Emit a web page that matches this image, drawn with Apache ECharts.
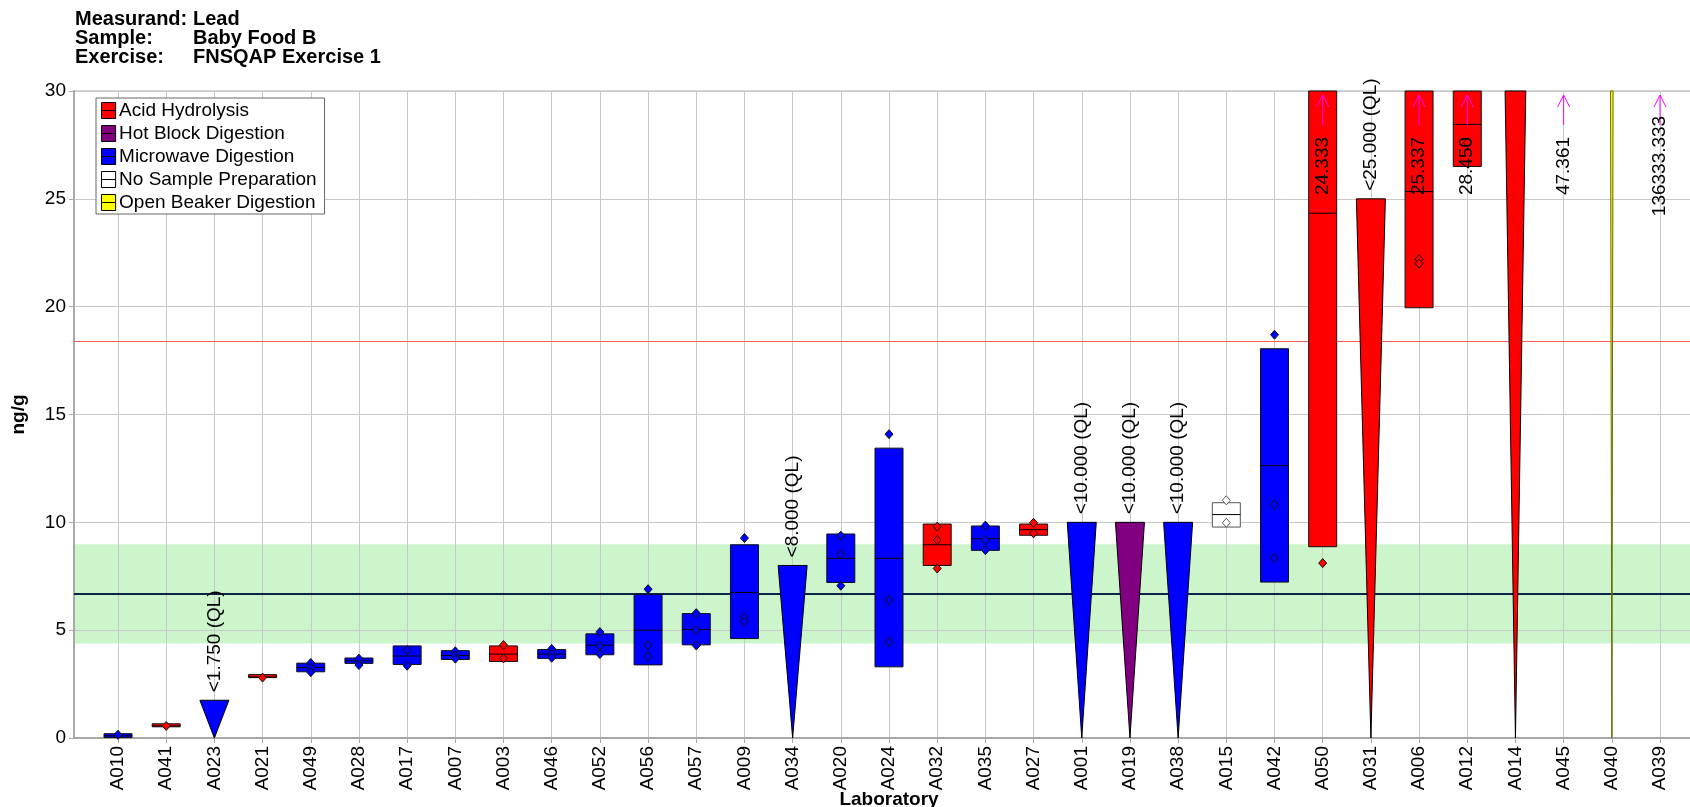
<!DOCTYPE html>
<html>
<head>
<meta charset="utf-8">
<script src="https://cdn.jsdelivr.net/npm/echarts@6/dist/echarts.min.js"></script>
<style>
html, body { margin: 0; padding: 0; background: #fff; }
#chart { width: 1690px; height: 807px; }
</style>
</head>
<body>
<div id="chart"></div>
<script>
var headerKeys = ['Measurand:', 'Sample:', 'Exercise:'];
var headerValues = ['Lead', 'Baby Food B', 'FNSQAP Exercise 1'];

var labs = ['A010','A041','A023','A021','A049','A028','A017','A007','A003','A046','A052','A056','A057','A009','A034','A020','A024','A032','A035','A027','A001','A019','A038','A015','A042','A050','A031','A006','A012','A014','A045','A040','A039'];
var methods = ['MW','AH','MW','AH','MW','MW','MW','MW','AH','MW','MW','MW','MW','MW','MW','MW','MW','AH','MW','AH','MW','HB','MW','NP','MW','AH','AH','AH','AH','AH','AH','OB','MW'];

var boxLow    = [0.02,0.52,null,2.80,3.07,3.46,3.41,3.64,3.55,3.69,3.86,3.39,4.32,4.61,null,7.21,3.30,8.00,8.70,9.40,null,null,null,9.78,7.23,8.87,null,19.95,26.50,null,null,null,null];
var boxMedian = [0.10,0.56,null,2.83,3.27,3.58,3.80,3.83,3.89,3.89,4.30,5.00,5.03,6.75,null,8.33,8.33,8.96,9.24,9.66,null,null,null,10.36,12.63,24.333,null,25.337,28.45,null,null,null,null];
var boxHigh   = [0.20,0.60,null,2.86,3.47,3.71,4.27,4.05,4.27,4.10,4.83,6.66,5.77,8.96,null,9.46,13.44,9.92,9.83,9.92,null,null,null,10.91,18.05,40,null,35,32,null,null,null,null];
var results = [[0.15],[0.56],[],[2.80],[3.48,3.25,3.05],[3.68,3.38],[4.08,3.35],[4.02,3.83,3.68],[4.31,3.69],[4.13,3.89,3.72],[4.91,4.27,3.89],[6.90,4.30,3.79],[5.79,5.00,4.29],[9.27,5.60,5.39],[],[9.38,8.53,7.06],[14.09,6.39,4.46],[9.80,9.18,7.86],[9.85,9.18,8.71],[9.98,9.49],[],[],[],[11.02,9.98],[18.70,10.82,8.34],[8.11],[],[22.2,22.0],[27.6],[],[],[],[]];

// "<QL" results drawn as wedges from the QL down to zero
var qlTop  = [null,null,1.75,null,null,null,null,null,null,null,null,null,null,null,8.0,null,null,null,null,null,10,10,10,null,null,null,25,null,null,42,null,350,null];
var qlText = [null,null,'<1.750 (QL)',null,null,null,null,null,null,null,null,null,null,null,'<8.000 (QL)',null,null,null,null,null,'<10.000 (QL)','<10.000 (QL)','<10.000 (QL)',null,null,null,'<25.000 (QL)',null,null,null,null,null,null];
// values above the axis range
var offText = [null,null,null,null,null,null,null,null,null,null,null,null,null,null,null,null,null,null,null,null,null,null,null,null,null,'24.333',null,'25.337','28.450',null,'47.361',null,'136333.333'];

var assignedValue = 6.70;
var bandLow = 4.38;
var bandHigh = 8.98;
var upperLimit = 18.38;
var yTicks = [0, 5, 10, 15, 20, 25, 30];

var methodNames = {AH: 'Acid Hydrolysis', HB: 'Hot Block Digestion', MW: 'Microwave Digestion', NP: 'No Sample Preparation', OB: 'Open Beaker Digestion'};
var methodColors = {AH: '#ff0000', HB: '#800080', MW: '#0000ff', NP: '#ffffff', OB: '#ffff00'};
var methodOrder = ['AH', 'HB', 'MW', 'NP', 'OB'];

var FONT = '"Liberation Sans", Arial, sans-serif';
var yMax = yTicks[yTicks.length - 1];

function renderLab(params, api) {
    var i = api.value(0);
    var m = methods[i];
    var color = methodColors[m];
    var stroke = m === 'NP' ? '#555' : '#111';
    var cx = api.coord([i, 0])[0];
    var y0 = api.coord([i, 0])[1];
    var yTop = api.coord([i, yMax])[1];
    function py(v) { return api.coord([i, Math.min(v, yMax)])[1]; }
    var bw = 28;
    var children = [];

    if (qlTop[i] != null) {
        var t = Math.min(qlTop[i], yMax);
        var w = 29 * t / qlTop[i];
        children.push({type: 'polygon', shape: {points: [[cx - w / 2, py(t)], [cx + w / 2, py(t)], [cx, y0]]},
            style: {fill: color, stroke: m === 'OB' ? '#6b6b00' : '#000', lineWidth: 1, lineJoin: 'round'}});
        if (qlText[i]) {
            children.push({type: 'text', x: cx, y: py(t) - 8, rotation: Math.PI / 2,
                style: {text: qlText[i], font: '19px ' + FONT, fill: '#000', align: 'left', verticalAlign: 'middle'}});
        }
    }
    if (boxLow[i] != null) {
        var yt = py(boxHigh[i]), yb = py(boxLow[i]);
        var h = Math.max(yb - yt, 3);
        children.push({type: 'rect', shape: {x: cx - bw / 2, y: yb - h, width: bw, height: h},
            style: {fill: color, stroke: stroke, lineWidth: 1}});
        if (boxMedian[i] < yMax) {
            var ym = py(boxMedian[i]);
            children.push({type: 'line', shape: {x1: cx - bw / 2, y1: ym, x2: cx + bw / 2, y2: ym},
                style: {stroke: '#000', lineWidth: 1}});
        }
    }
    results[i].forEach(function (v) {
        var yy = py(v);
        children.push({type: 'polygon', shape: {points: [[cx, yy - 4.5], [cx + 4, yy], [cx, yy + 4.5], [cx - 4, yy]]},
            style: {fill: color, stroke: stroke, lineWidth: 1}});
    });
    if (offText[i]) {
        children.push({type: 'line', shape: {x1: cx, y1: yTop + 4, x2: cx, y2: yTop + 34},
            style: {stroke: '#ff00ff', lineWidth: 1}});
        children.push({type: 'polyline', shape: {points: [[cx - 6, yTop + 16], [cx, yTop + 4], [cx + 6, yTop + 16]]},
            style: {stroke: '#ff00ff', lineWidth: 1, fill: null}});
        children.push({type: 'text', x: cx, y: yTop + 75, rotation: Math.PI / 2,
            style: {text: offText[i], font: '19px ' + FONT, fill: '#000', align: 'center', verticalAlign: 'middle'}});
    }
    return {type: 'group', children: children};
}

var series = [{
    type: 'line',
    xAxisIndex: 0,
    yAxisIndex: 0,
    data: [],
    silent: true,
    z: 1,
    markArea: {silent: true, itemStyle: {color: '#ccf5cc'}, data: [[{yAxis: bandLow}, {yAxis: bandHigh}]]},
    markLine: {
        silent: true, symbol: 'none', label: {show: false},
        data: [
            {yAxis: assignedValue, lineStyle: {color: '#0d2449', width: 2, type: 'solid'}},
            {yAxis: upperLimit, lineStyle: {color: '#ff5a5a', width: 1, type: 'solid'}}
        ]
    }
}];
methodOrder.forEach(function (m) {
    var d = [];
    for (var i = 0; i < labs.length; i++) {
        if (methods[i] === m) d.push([i, 0]);
    }
    series.push({
        name: methodNames[m],
        type: 'custom',
        xAxisIndex: 1,
        yAxisIndex: 1,
        z: 5,
        silent: true,
        itemStyle: {color: methodColors[m], borderColor: '#000', borderWidth: 1},
        encode: {x: 0, y: 1},
        renderItem: renderLab,
        data: d
    });
});

var chart = echarts.init(document.getElementById('chart'));
chart.setOption({
    animation: false,
    backgroundColor: '#fff',
    textStyle: {fontFamily: FONT},
    grid: [
        {left: 74, right: -1, top: 91, bottom: 69, show: true, borderColor: '#d6d6d6', borderWidth: 2,
            containLabel: false, outerBoundsMode: 'none'},
        {left: 118, right: 30, top: 91, bottom: 69, containLabel: false, outerBoundsMode: 'none'}
    ],
    xAxis: [
        {gridIndex: 0, type: 'value', min: 0, max: 1, z: 2,
            axisLine: {show: true, lineStyle: {color: '#a8a8a8', width: 2}},
            axisTick: {show: false}, axisLabel: {show: false}, splitLine: {show: false}},
        {gridIndex: 1, type: 'category', data: labs, boundaryGap: false, z: 2,
            name: 'Laboratory', nameLocation: 'middle', nameGap: 52, nameMoveOverlap: false,
            nameTextStyle: {fontSize: 19, fontWeight: 'bold', color: '#000', fontFamily: FONT},
            axisLine: {show: false},
            axisTick: {show: true, length: 5, lineStyle: {color: '#a8a8a8'}},
            axisLabel: {interval: 0, rotate: 90, fontSize: 19, color: '#000', margin: 8, fontFamily: FONT},
            splitLine: {show: true, lineStyle: {color: '#c8c8c8', width: 1}}}
    ],
    yAxis: [
        {gridIndex: 0, type: 'value', min: 0, max: yMax, interval: 5, z: 2,
            name: 'ng/g', nameLocation: 'middle', nameGap: 46, nameMoveOverlap: false,
            nameTextStyle: {fontSize: 19, fontWeight: 'bold', color: '#000', fontFamily: FONT},
            axisLine: {show: true, lineStyle: {color: '#a8a8a8', width: 2}},
            axisTick: {show: true, length: 5, lineStyle: {color: '#a8a8a8'}},
            axisLabel: {fontSize: 19, color: '#000', margin: 8, fontFamily: FONT},
            splitLine: {show: true, lineStyle: {color: '#c8c8c8', width: 1}}},
        {gridIndex: 1, type: 'value', min: 0, max: yMax, interval: 5, show: false}
    ],
    legend: {
        data: methodOrder.map(function (m) { return methodNames[m]; }),
        orient: 'vertical',
        left: 96, top: 98,
        backgroundColor: '#fff',
        borderColor: '#666', borderWidth: 1, borderRadius: 0,
        padding: [3, 8, 2, 5],
        itemGap: 4, itemWidth: 15, itemHeight: 16,
        icon: 'path://M0 0H15V17H0ZM0 8.5H15',
        selectedMode: false,
        itemStyle: {borderColor: '#000', borderWidth: 1},
        textStyle: {fontSize: 19, color: '#000', fontFamily: FONT, padding: [0, 0, 0, -2]}
    },
    graphic: headerKeys.map(function (k, r) {
        return {type: 'text', left: 75, top: 9 + r * 19,
            style: {text: k, font: 'bold 20px ' + FONT, fill: '#000'}};
    }).concat(headerValues.map(function (v, r) {
        return {type: 'text', left: 193, top: 9 + r * 19,
            style: {text: v, font: 'bold 20px ' + FONT, fill: '#000'}};
    })),
    series: series
});
</script>
</body>
</html>
